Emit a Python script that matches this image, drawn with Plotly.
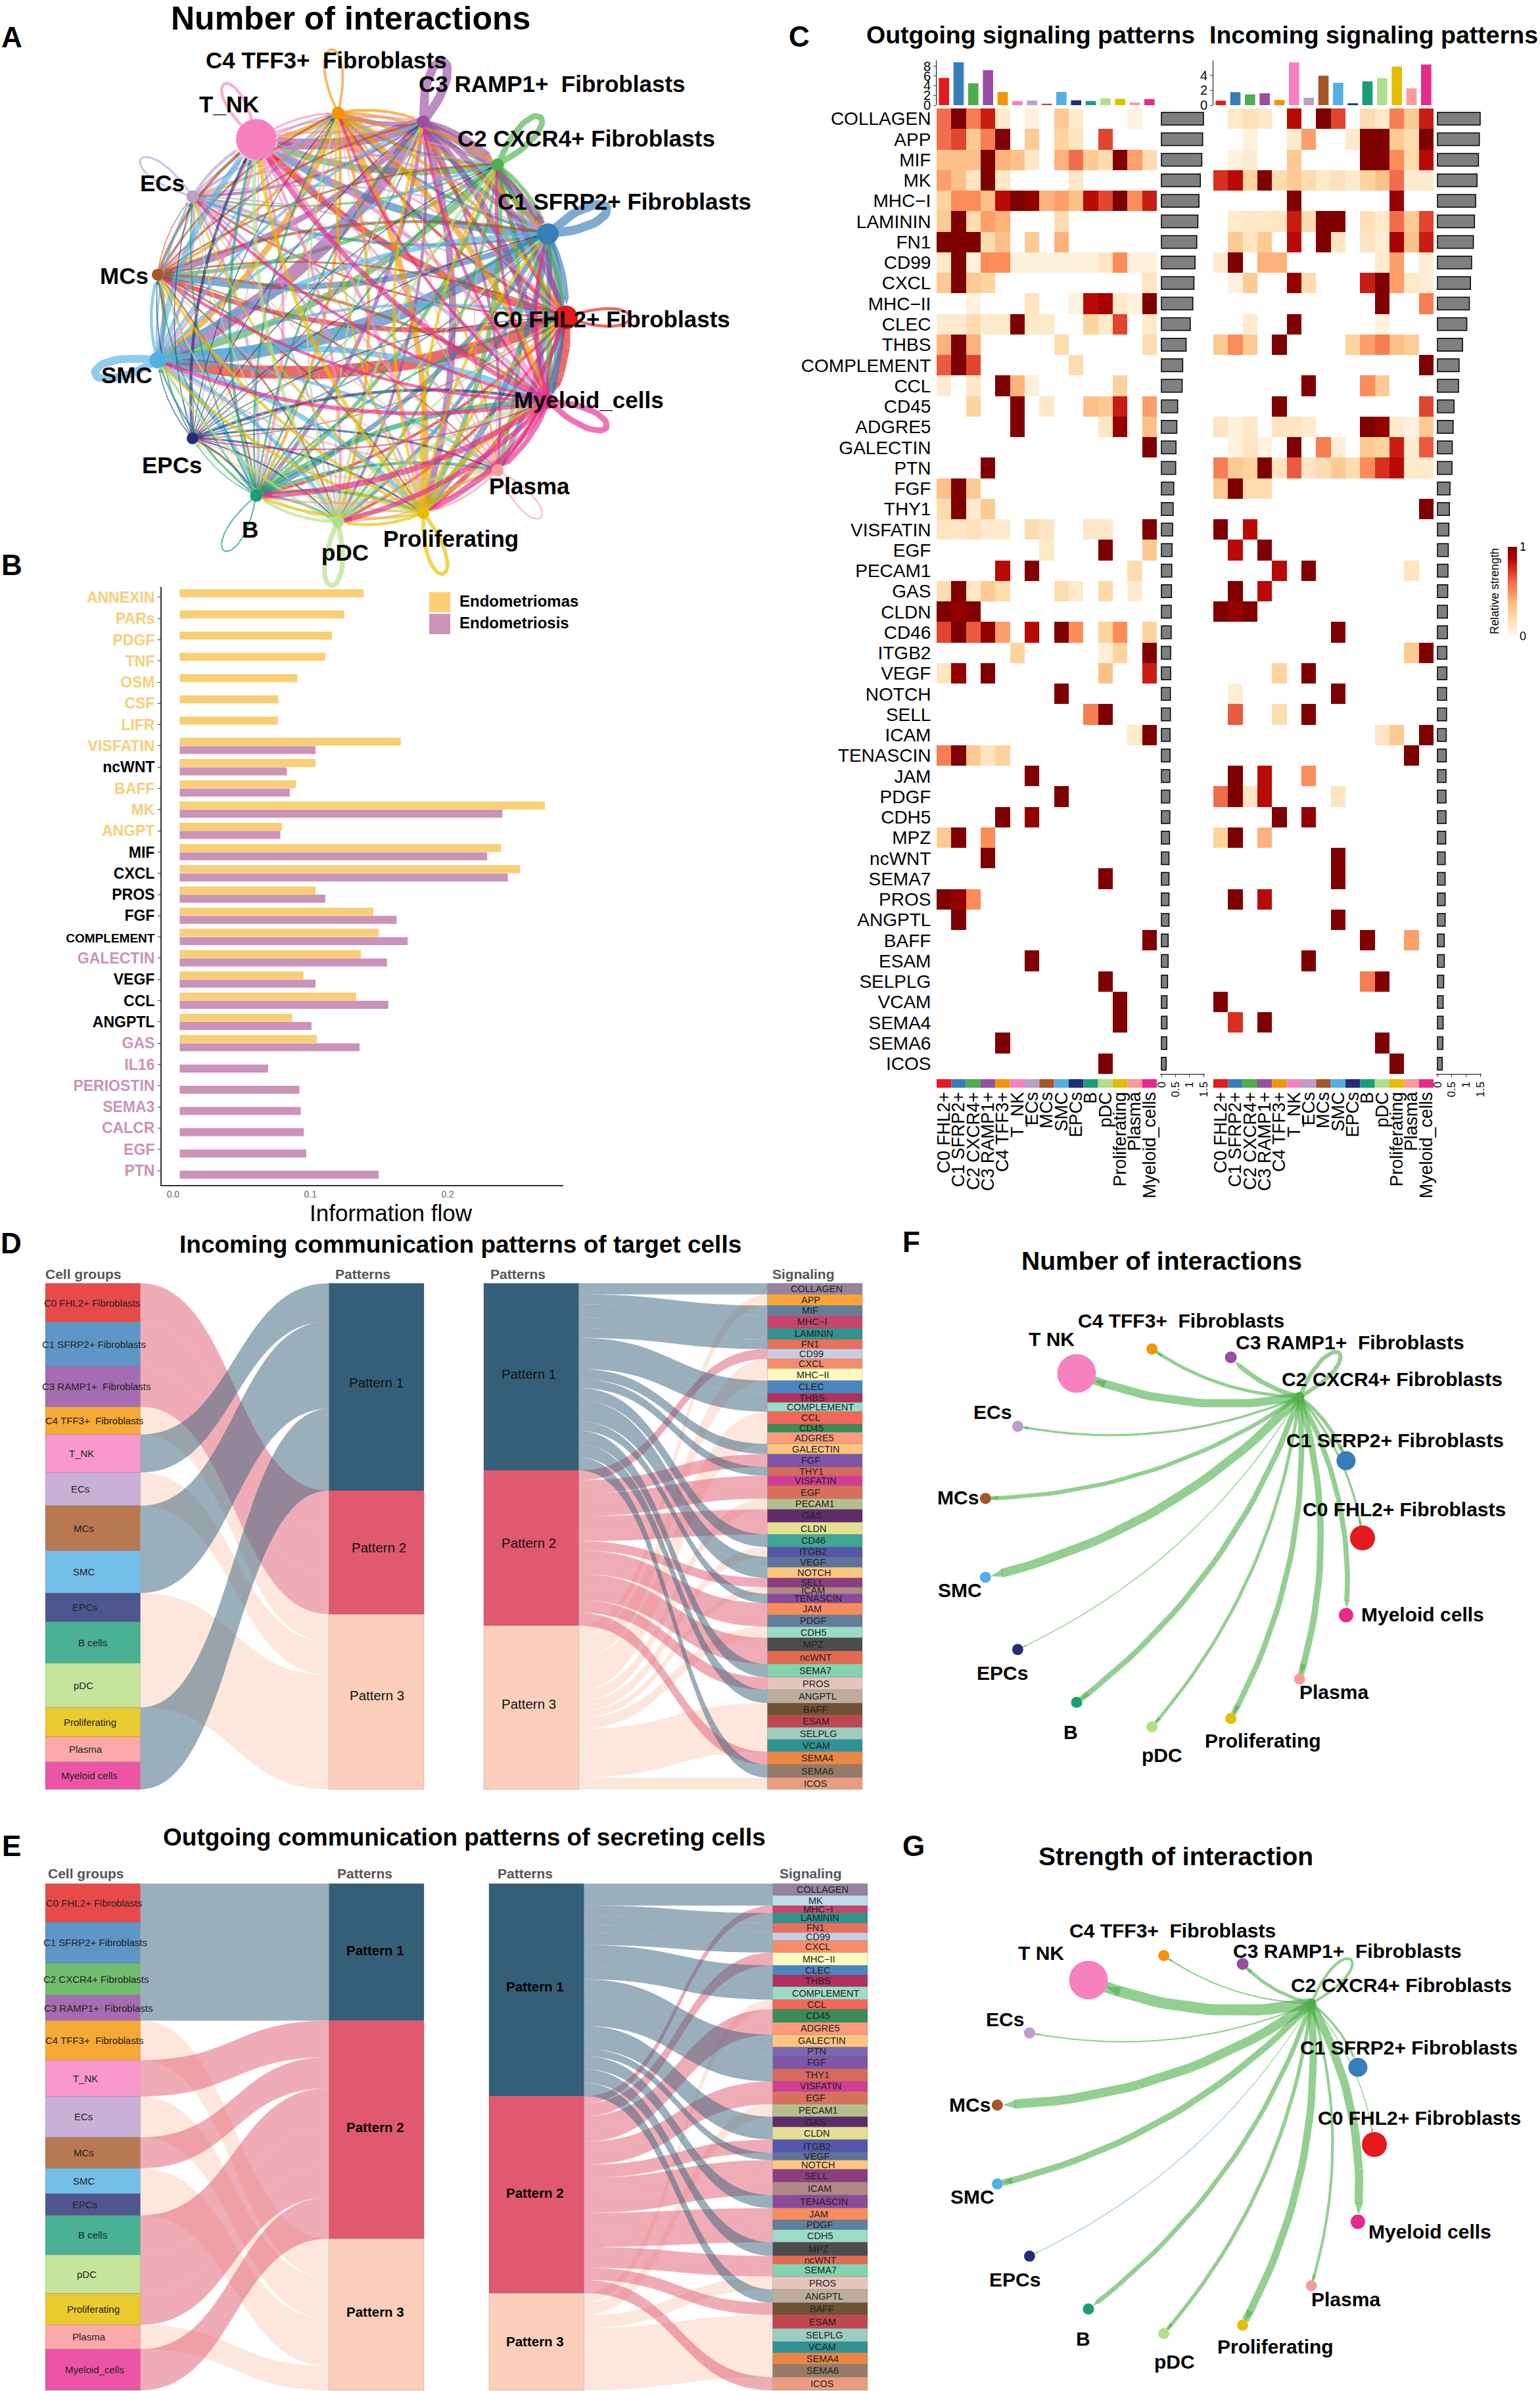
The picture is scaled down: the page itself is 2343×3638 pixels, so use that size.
import math
import plotly.graph_objects as go

W, H = 2343, 3638
FONT = "Liberation Sans"

# ---------------- shared names and colours
cell_names = ["C0 FHL2+", "C1 SFRP2+", "C2 CXCR4+", "C3 RAMP1+", "C4 TFF3+", "T_NK", "ECs", "MCs", "SMC", "EPCs",
              "B", "pDC", "Proliferating", "Plasma", "Myeloid_cells"]
cell_colors = ['#E41A1C', '#377EB8', '#4DAF4A', '#984EA3', '#F29403', '#F781BF', '#BC9DCC', '#A65628', '#54B0E4',
               '#222F75', '#1B9E77', '#B2DF8A', '#E3BE00', '#FB9A99', '#E7298A']

# ---------------- panel A: interaction counts (source rows, target columns; read as line weights)
a_weights = [
    [3, 5, 4, 4, 3, 7, 2, 5, 13, 1, 3, 3, 5, 3, 9],
    [5, 9, 5, 5, 3, 8, 3, 6, 14, 1.5, 5, 4, 6, 5, 8],
    [4, 4, 6, 4, 3, 7, 2, 4, 7, 1, 4, 3, 5, 4, 6],
    [6, 7, 6, 9, 5, 11, 3, 6, 14, 1.5, 4, 3, 7, 3, 7],
    [3, 3, 3, 3, 2.5, 6, 2, 3, 6, 1, 3, 3, 6, 2, 6],
    [2, 3, 2, 2, 2, 3, 1.5, 2, 3, 1, 3, 3, 4, 2, 4],
    [1.5, 2, 2, 2, 2, 3, 2, 2, 3, 1, 3, 2, 3, 2, 4],
    [2, 3, 2, 2, 2, 3, 1, 0, 4, 1, 2, 2, 2, 1.5, 3],
    [3, 5, 3, 3, 2, 6, 2, 3, 8, 1, 5, 4, 5, 3, 6],
    [1, 1, 1, 1, 1, 3, 1, 1, 1, 0, 2, 1.5, 2, 2, 3],
    [2, 2, 2, 2, 2, 3, 1.5, 1.5, 2, 1, 1.5, 2.5, 3, 3, 5],
    [2, 2, 3, 2, 2, 4, 1.5, 2, 3, 1, 3, 5, 3, 2.5, 5],
    [3, 3, 3, 3, 2, 4, 2, 3, 3, 1, 3, 3, 4, 3, 5],
    [1, 1.5, 1, 1, 1, 2, 1, 1, 1.5, 1, 2, 1.5, 2, 1.5, 3],
    [3, 4, 3, 3, 3, 5, 3, 3, 4, 1.5, 6, 5, 6, 5, 6],
]
a_node_sizes = [36, 32, 19, 19, 19, 62, 19, 18, 25, 18, 19, 18, 18, 18, 23]
a_labels = ["C0 FHL2+ Fibroblasts", "C1 SFRP2+ Fibroblasts", "C2 CXCR4+ Fibroblasts", "C3 RAMP1+\u00a0 Fibroblasts",
            "C4 TFF3+\u00a0 Fibroblasts", "T_NK", "ECs", "MCs", "SMC", "EPCs", "B", "pDC", "Proliferating", "Plasma",
            "Myeloid_cells"]
fg_labels = ["C0 FHL2+ Fibroblasts", "C1 SFRP2+ Fibroblasts", "C2 CXCR4+ Fibroblasts", "C3 RAMP1+\u00a0 Fibroblasts",
             "C4 TFF3+\u00a0 Fibroblasts", "T NK", "ECs", "MCs", "SMC", "EPCs", "B", "pDC", "Proliferating", "Plasma",
             "Myeloid cells"]

# ---------------- panels F and G: edges leaving C2 CXCR4+
f_widths = [2.5, 4, 4.5, 5, 3.5, 9, 2.5, 4.5, 9.5, 1, 6, 3.5, 6, 7, 5.5]
g_widths = [1, 2.5, 3, 3.5, 1.5, 12, 1.5, 10, 7, 0.8, 5, 4, 8, 3, 9]
fg_node_sizes = [38, 29, 15, 18, 17, 59, 17, 17, 17, 17, 17, 17, 17, 17, 22]

# ---------------- panel B
b_signals = ["ANNEXIN", "PARs", "PDGF", "TNF", "OSM", "CSF", "LIFR", "VISFATIN", "ncWNT", "BAFF", "MK", "ANGPT", "MIF",
             "CXCL", "PROS", "FGF", "COMPLEMENT", "GALECTIN", "VEGF", "CCL", "ANGPTL", "GAS", "IL16", "PERIOSTIN",
             "SEMA3", "CALCR", "EGF", "PTN"]
b_endometriomas = [.134, .120, .111, .106, .0858, .0718, .0715, .161, .099, .0846, .266, .0745, .234, .248, .099, .141,
                   .145, .132, .090, .1285, .082, .100, 0, 0, 0, 0, 0, 0]
b_endometriosis = [0, 0, 0, 0, 0, 0, 0, .099, .078, .0803, .235, .0733, .224, .239, .106, .158, .166, .151, .099, .152,
                   .096, .131, .0644, .0873, .0882, .0904, .0922, .145]
b_label_group = ["y", "y", "y", "y", "y", "y", "y", "y", "k", "y", "y", "y", "k", "k", "k", "k", "k", "p", "k", "k",
                 "k", "p", "p", "p", "p", "p", "p", "p"]

# ---------------- panel C
c_rows = ["COLLAGEN", "APP", "MIF", "MK", "MHC\u2212I", "LAMININ", "FN1", "CD99", "CXCL", "MHC\u2212II", "CLEC", "THBS",
          "COMPLEMENT", "CCL", "CD45", "ADGRE5", "GALECTIN", "PTN", "FGF", "THY1", "VISFATIN", "EGF", "PECAM1", "GAS",
          "CLDN", "CD46", "ITGB2", "VEGF", "NOTCH", "SELL", "ICAM", "TENASCIN", "JAM", "PDGF", "CDH5", "MPZ", "ncWNT",
          "SEMA7", "PROS", "ANGPTL", "BAFF", "ESAM", "SELPLG", "VCAM", "SEMA4", "SEMA6", "ICOS"]
c_outgoing = [
    [.6, 1, .55, .8, .1, 0, .05, 0, .3, .1, 0, 0, 0, .05, 0],
    [.6, .7, .3, .55, 1, 0, .3, 0, .25, .15, 0, .7, 0, 0, 0],
    [.35, .35, .35, 1, .4, .35, .12, 0, .4, .6, .3, .2, 1, .45, .2],
    [.45, .35, .15, 1, .13, 0, 0, 0, 0, .13, 0, 0, 0, 0, 0],
    [.25, .5, .5, .35, .85, 1, .95, .4, .45, .35, .85, .7, 1, .5, .8],
    [.3, 1, .2, .45, .4, 0, 0, 0, .2, 0, 0, 0, 0, 0, 0],
    [1, 1, 1, .2, .35, 0, .3, 0, .4, 0, 0, 0, 0, 0, 0],
    [.12, 1, .05, .5, .5, .06, .06, .06, .06, .06, .06, .15, .5, .06, .06],
    [.3, 1, .3, .25, 0, 0, 0, 0, 0, 0, 0, 0, 0, 0, .15],
    [0, 0, .05, 0, 0, 0, .15, 0, 0, .05, .85, .9, .12, .05, 1],
    [.1, .1, .2, .1, .12, 1, .12, .12, 0, 0, .25, .12, .7, 0, .12],
    [.4, 1, .4, 0, 0, 0, 0, 0, .2, 0, 0, 0, 0, 0, .2],
    [.65, 1, .7, 0, 0, 0, 0, 0, 0, .2, 0, 0, 0, 0, 0],
    [.1, 0, .13, 0, 1, .4, .06, 0, 0, 0, 0, 0, .25, 0, 0],
    [0, 0, .25, 0, 0, 1, 0, .13, 0, 0, .35, .3, .8, 0, .45],
    [0, 0, 0, 0, 0, 1, 0, 0, 0, 0, 0, .13, .95, 0, .35],
    [0, 0, 0, 0, 0, 0, 0, 0, 0, 0, 0, 0, 0, 0, 1],
    [0, 0, 0, 1, 0, 0, 0, 0, 0, 0, 0, 0, 0, 0, 0],
    [.35, 1, .3, 0, 0, 0, 0, 0, 0, 0, 0, 0, 0, 0, 0],
    [.2, 1, .1, .3, 0, 0, 0, 0, 0, 0, 0, 0, 0, 0, 0],
    [.15, .13, .17, .1, .1, 0, .2, .15, 0, 0, .13, .13, 0, 0, 1],
    [0, 0, 0, 0, 0, 0, 0, .12, 0, 0, 0, 1, 0, 0, .3],
    [0, 0, 0, 0, .85, 0, 1, 0, 0, 0, 0, 0, 0, .2, 0],
    [.2, 1, .13, .3, .2, 0, 0, 0, .2, .1, 0, .22, 0, .1, 0],
    [1, .95, 1, 0, 0, 0, 0, 0, 0, 0, 0, 0, 0, 0, 0],
    [.7, 1, .65, .95, .45, 0, .85, 0, 1, .5, 0, .25, .5, 0, .25],
    [0, 0, 0, 0, 0, .25, 0, 0, 0, 0, 0, .07, .25, 0, 1],
    [.15, .95, 0, 1, 0, 0, 0, 0, 0, 0, 0, .35, 0, 0, .8],
    [0, 0, 0, 0, 0, 0, 0, 0, 1, 0, 0, 0, 0, 0, 0],
    [0, 0, 0, 0, 0, 0, 0, 0, 0, 0, .55, 1, 0, 0, 0],
    [0, 0, 0, 0, 0, 0, 0, 0, 0, 0, 0, 0, 0, .12, 1],
    [.55, 1, .3, .15, .25, 0, 0, 0, 0, 0, 0, 0, 0, 0, 0],
    [0, 0, 0, 0, 0, 0, 1, 0, 0, 0, 0, 0, 0, 0, 0],
    [0, 0, 0, 0, 0, 0, 0, 0, 1, 0, 0, 0, 0, 0, 0],
    [0, 0, 0, 0, 1, 0, .95, 0, 0, 0, 0, 0, 0, 0, 0],
    [.3, 1, 0, .5, 0, 0, 0, 0, 0, 0, 0, 0, 0, 0, 0],
    [0, 0, 0, 1, 0, 0, 0, 0, 0, 0, 0, 0, 0, 0, 0],
    [0, 0, 0, 0, 0, 0, 0, 0, 0, 0, 0, 1, 0, 0, 0],
    [1, .95, .5, 0, 0, 0, 0, 0, 0, 0, 0, 0, 0, 0, 0],
    [0, 1, 0, 0, 0, 0, 0, 0, 0, 0, 0, 0, 0, 0, 0],
    [0, 0, 0, 0, 0, 0, 0, 0, 0, 0, 0, 0, 0, 0, 1],
    [0, 0, 0, 0, 0, 0, 1, 0, 0, 0, 0, 0, 0, 0, 0],
    [0, 0, 0, 0, 0, 0, 0, 0, 0, 0, 0, 1, 0, 0, 0],
    [0, 0, 0, 0, 0, 0, 0, 0, 0, 0, 0, 0, 1, 0, 0],
    [0, 0, 0, 0, 0, 0, 0, 0, 0, 0, 0, 0, 1, 0, 0],
    [0, 0, 0, 0, 1, 0, 0, 0, 0, 0, 0, 0, 0, 0, 0],
    [0, 0, 0, 0, 0, 0, 0, 0, 0, 0, 0, 1, 0, 0, 0],
]
c_incoming = [
    [0, .12, .17, .13, 0, .85, 0, 1, .7, 0, .2, .12, .55, .3, .8],
    [0, 0, .05, 0, 0, .1, .45, 0, 0, .1, 1, 1, .3, .2, 1],
    [0, .05, .1, 0, 0, .3, 0, 0, 0, 0, 1, 1, .5, .2, .85],
    [.75, .85, .25, 1, .2, .3, .2, .12, .17, .1, .25, .35, .6, .1, .1],
    [0, 0, 0, 0, 0, 1, 0, 0, 0, 0, 0, 0, .95, 0, 0],
    [0, .12, .13, .12, .15, .8, .2, 1, 1, 0, .18, .12, .6, .3, .7],
    [0, .3, .15, .3, 0, .85, 0, 1, .15, 0, .15, .08, .9, .35, .8],
    [.1, 1, 0, .4, .4, 0, 0, 0, 0, 0, 0, .1, .45, 0, .08],
    [0, .05, .3, 0, 0, .95, .2, 0, 0, 0, .8, 1, .45, .12, .08],
    [0, 0, 0, 0, 0, 0, 0, 0, 0, 0, 0, 1, 0, 0, .55],
    [0, 0, .1, 0, 0, 1, 0, 0, 0, 0, 0, .04, 0, 0, 0],
    [.3, .5, .3, 0, 1, 0, 0, 0, 0, .25, .45, .55, .35, .28, 0],
    [0, 0, 0, 0, 0, 0, 0, 0, 0, 0, 0, 0, 0, 0, 1],
    [0, 0, 0, 0, 0, 0, 1, 0, 0, 0, .5, .3, 0, 0, 0],
    [0, 0, 0, 0, 1, 0, 0, 0, 0, 0, 0, 0, 0, 0, .7],
    [.15, .06, .13, 0, .15, .15, .1, 0, 0, 0, 1, .95, .1, .05, .3],
    [0, .05, .15, .05, 0, 1, 0, .55, .08, 0, .3, .25, .8, .1, .65],
    [.55, .3, .25, 1, .15, .65, .15, .2, .3, .2, .5, .75, .85, .12, .12],
    [.3, 1, .2, .2, 0, 0, 0, 0, 0, 0, 0, 0, 0, 0, 0],
    [0, 0, 0, 0, 0, 0, 0, 0, 0, 0, 0, 0, 0, 0, 1],
    [1, 0, .85, 0, 0, 0, 0, 0, 0, 0, 0, 0, 0, 0, 0],
    [0, .85, 0, 1, 0, 0, 0, 0, 0, 0, 0, 0, 0, 0, 0],
    [0, 0, 0, 0, .85, 0, 1, 0, 0, 0, 0, 0, 0, .15, 0],
    [0, 1, 0, .85, 0, 0, 0, 0, 0, 0, 0, 0, 0, 0, 0],
    [1, .95, 1, 0, 0, 0, 0, 0, 0, 0, 0, 0, 0, 0, 0],
    [0, 0, 0, 0, 0, 0, 0, 0, 1, 0, 0, 0, 0, 0, 0],
    [0, 0, 0, 0, 0, 0, 0, 0, 0, 0, 0, 0, 0, .3, 1],
    [0, 0, 0, 0, .25, 0, 1, 0, 0, 0, 0, 0, 0, 0, 0],
    [0, .08, 0, 0, 0, 0, 0, 0, 1, 0, 0, 0, 0, 0, 0],
    [0, .65, 0, 0, .2, 0, 1, 0, 0, 0, 0, 0, 0, 0, 0],
    [0, 0, 0, 0, 0, 0, 0, 0, 0, 0, 0, .15, .3, 0, 1],
    [0, 0, 0, 0, 0, 0, 0, 0, 0, 0, 0, 0, 0, 1, 0],
    [0, 1, 0, .85, 0, 0, .5, 0, 0, 0, 0, 0, 0, 0, 0],
    [.6, 1, .15, .85, 0, 0, 0, 0, .15, 0, 0, 0, 0, 0, 0],
    [0, 0, 0, 0, 1, 0, .95, 0, 0, 0, 0, 0, 0, 0, 0],
    [.25, 1, 0, .4, 0, 0, 0, 0, 0, 0, 0, 0, 0, 0, 0],
    [0, 0, 0, 0, 0, 0, 0, 0, 1, 0, 0, 0, 0, 0, 0],
    [0, 0, 0, 0, 0, 0, 0, 0, 1, 0, 0, 0, 0, 0, 0],
    [0, 1, 0, .85, 0, 0, 0, 0, 0, 0, 0, 0, 0, 0, 0],
    [0, 0, 0, 0, 0, 0, 0, 0, 1, 0, 0, 0, 0, 0, 0],
    [0, 0, 0, 0, 0, 0, 0, 0, 0, 0, 1, 0, 0, .45, 0],
    [0, 0, 0, 0, 0, 0, 1, 0, 0, 0, 0, 0, 0, 0, 0],
    [0, 0, 0, 0, 0, 0, 0, 0, 0, 0, .55, 1, 0, 0, 0],
    [1, 0, 0, 0, 0, 0, 0, 0, 0, 0, 0, 0, 0, 0, 0],
    [0, .75, 0, 1, 0, 0, 0, 0, 0, 0, 0, 0, 0, 0, 0],
    [0, 0, 0, 0, 0, 0, 0, 0, 0, 0, 0, 1, 0, 0, 0],
    [0, 0, 0, 0, 0, 0, 0, 0, 0, 0, 0, 0, 1, 0, 0],
]
c_top_out = [5.6, 8.8, 4.5, 7.2, 2.7, .85, .95, .3, 2.7, 1.0, .85, 1.4, 1.3, .55, 1.25]
c_top_in = [.6, 1.75, 1.45, 1.6, .7, 5.75, 1.0, 3.95, 3.0, .25, 3.2, 3.65, 5.2, 2.25, 5.45]
c_row_totals = [1.5, 1.47, 1.44, 1.39, 1.34, 1.3, 1.26, 1.2, 1.16, 1.12, 1.03, .88, .76, .74, .58, .55, .52, .51, .44,
                .42, .40, .38, .37, .36, .35, .35, .33, .33, .32, .32, .31, .31, .30, .30, .30, .29, .27, .27, .27, .27,
                .24, .24, .22, .2, .2, .19, .17]

# ---------------- panels D and E: alluvial flows
pattern_names = ["Pattern 1", "Pattern 2", "Pattern 3"]
group_colors = {"C0 FHL2+ Fibroblasts": '#E84A4A', "C1 SFRP2+ Fibroblasts": '#5F96C8', "C2 CXCR4+ Fibroblasts": '#70BD6E',
                "C3 RAMP1+\u00a0 Fibroblasts": '#A56CB2', "C4 TFF3+\u00a0 Fibroblasts": '#F6A935', "T_NK": '#F898CC',
                "ECs": '#C8B0D6', "MCs": '#B77852', "SMC": '#74BEEA', "EPCs": '#4E5690', "B cells": '#4AB192',
                "pDC": '#C5E59C', "Proliferating": '#E9CB30', "Plasma": '#FCAAA9', "Myeloid cells": '#EE54A6',
                "Myeloid_cells": '#EE54A6'}
signal_colors = {"COLLAGEN": '#96839F', "APP": '#F8A436', "MIF": '#60809B', "MHC\u2212I": '#C5466C', "LAMININ": '#33938F',
                 "FN1": '#E8705C', "CD99": '#C9CBE2', "CXCL": '#F98C68', "MHC\u2212II": '#FCF8BE', "CLEC": '#4C85C3',
                 "THBS": '#B0305F', "COMPLEMENT": '#9ADCC6', "CCL": '#F46655', "CD45": '#3A8C58', "ADGRE5": '#FB9B7A',
                 "GALECTIN": '#FDC57F', "FGF": '#7E55A8', "THY1": '#D66A5C', "VISFATIN": '#D43C96', "EGF": '#D8705C',
                 "PECAM1": '#B6BD8C', "GAS": '#5F2C6A', "CLDN": '#E5DF94', "CD46": '#3EA893', "ITGB2": '#5458A8',
                 "VEGF": '#5F7299', "NOTCH": '#FDC57F', "SELL": '#8C3F80', "ICAM": '#B28788', "TENASCIN": '#8C4A9C',
                 "JAM": '#F98C5E', "PDGF": '#617F9B', "CDH5": '#9ADCC6', "MPZ": '#4D4D4D', "ncWNT": '#E86A50',
                 "SEMA7": '#83D3B0', "PROS": '#E6C3BD', "ANGPTL": '#BCAD9C', "BAFF": '#6F5233', "ESAM": '#C0464F',
                 "SELPLG": '#9CCDC0', "VCAM": '#2F9294', "SEMA4": '#EC8645', "SEMA6": '#957C6A', "ICOS": '#EB9C80',
                 "MK": '#BFDBEC', "PTN": '#7A69B0'}

d_groups = ["C0 FHL2+ Fibroblasts", "C1 SFRP2+ Fibroblasts", "C3 RAMP1+\u00a0 Fibroblasts", "C4 TFF3+\u00a0 Fibroblasts",
            "T_NK", "ECs", "MCs", "SMC", "EPCs", "B cells", "pDC", "Proliferating", "Plasma", "Myeloid cells"]
d_group_values = [105, 120, 110, 75, 103, 90, 122, 115, 78, 112, 120, 80, 68, 74]
d_group_pattern = [1, 1, 1, 2, 0, 2, 0, 0, 2, 2, 2, 0, 0, 0]

d_signals = ["COLLAGEN", "APP", "MIF", "MHC\u2212I", "LAMININ", "FN1", "CD99", "CXCL", "MHC\u2212II", "CLEC", "THBS",
             "COMPLEMENT", "CCL", "CD45", "ADGRE5", "GALECTIN", "FGF", "THY1", "VISFATIN", "EGF", "PECAM1", "GAS", "CLDN",
             "CD46", "ITGB2", "VEGF", "NOTCH", "SELL", "ICAM", "TENASCIN", "JAM", "PDGF", "CDH5", "MPZ", "ncWNT", "SEMA7",
             "PROS", "ANGPTL", "BAFF", "ESAM", "SELPLG", "VCAM", "SEMA4", "SEMA6", "ICOS"]
d_signal_values = [30, 30, 27, 35, 30, 26, 27, 26, 33, 34, 25, 25, 34, 22, 31, 28, 35, 24, 27, 35, 29, 35, 33, 34, 27,
                   28, 29, 25, 18, 25, 32, 32, 30, 36, 35, 36, 34, 36, 33, 33, 33, 33, 35, 35, 32]
d_signal_pattern = [0, 2, 0, 0, 0, 0, 1, 2, 2, 0, 0, 0, 2, 2, 2, 0, 1, 0, 1, 1, 2, 1, 1, 0, 2, 0, 0, 1, 2, 0, 1, 1, 2,
                    1, 1, 0, 1, 0, 2, 2, 2, 2, 1, 0, 2]
d_signal_label_x = [1454, 1443, 1442, 1446, 1449, 1442, 1445, 1445, 1447, 1445, 1446, 1460, 1443, 1445, 1450, 1453,
                    1443, 1445, 1451, 1443, 1451, 1446, 1448, 1448, 1448, 1447, 1450, 1446, 1447, 1456, 1446, 1448,
                    1448, 1448, 1452, 1452, 1453, 1456, 1452, 1453, 1457, 1453, 1455, 1455, 1451]
d_group_label_x = [164, 167, 171, 168, 145, 143, 149, 150, 151, 165, 149, 160, 153, 159]

e_groups = ["C0 FHL2+ Fibroblasts", "C1 SFRP2+ Fibroblasts", "C2 CXCR4+ Fibroblasts", "C3 RAMP1+\u00a0 Fibroblasts",
            "C4 TFF3+\u00a0 Fibroblasts", "T_NK", "ECs", "MCs", "SMC", "EPCs", "B cells", "pDC", "Proliferating", "Plasma",
            "Myeloid_cells"]
e_group_values = [105, 111, 87, 69, 107, 99, 111, 84, 69, 59, 107, 105, 85, 66, 112]
e_group_pattern = [0, 0, 0, 0, 2, 1, 2, 1, 2, 2, 1, 1, 1, 2, 1]
e_group_label_x = [167, 170, 171, 175, 168, 152, 149, 149, 150, 151, 165, 155, 166, 159, 168]

e_signals = ["COLLAGEN", "MK", "MHC\u2212I", "LAMININ", "FN1", "CD99", "CXCL", "MHC\u2212II", "CLEC", "THBS", "COMPLEMENT",
             "CCL", "CD45", "ADGRE5", "GALECTIN", "PTN", "FGF", "THY1", "VISFATIN", "EGF", "PECAM1", "GAS", "CLDN", "ITGB2",
             "VEGF", "NOTCH", "SELL", "ICAM", "TENASCIN", "JAM", "PDGF", "CDH5", "MPZ", "ncWNT", "SEMA7", "PROS", "ANGPTL",
             "BAFF", "ESAM", "SELPLG", "VCAM", "SEMA4", "SEMA6", "ICOS"]
e_signal_values = [32, 28, 20, 27, 26, 22, 32, 35, 26, 32, 35, 26, 36, 33, 34, 23, 36, 34, 27, 35, 34, 28, 34, 36, 20,
                   25, 35, 35, 35, 32, 27, 34, 37, 22, 34, 35, 36, 33, 37, 36, 30, 31, 35, 36]
e_signal_pattern = [0, 0, 1, 0, 0, 0, 0, 1, 0, 0, 0, 2, 1, 1, 0, 0, 0, 0, 1, 1, 2, 0, 0, 1, 0, 1, 1, 1, 0, 1, 1, 1, 0,
                    1, 1, 2, 0, 1, 2, 2, 2, 2, 2, 1]
e_signal_label_x = [1464, 1452, 1457, 1460, 1452, 1456, 1456, 1458, 1456, 1456, 1470, 1454, 1456, 1460, 1463, 1454,
                    1454, 1455, 1461, 1452, 1457, 1452, 1454, 1454, 1454, 1457, 1453, 1459, 1467, 1457, 1459, 1460,
                    1457, 1460, 1461, 1464, 1467, 1463, 1464, 1467, 1464, 1465, 1465, 1463]

# ---------------- helpers
fig = go.Figure()
annotations, shapes = [], []
layout_axes = {}
axis_count = [0]


def text(px, py, s, size, color="#000000", bold=False, anchor="center", angle=0):
    annotations.append(dict(x=px / W, y=1 - py / H, xref="paper", yref="paper", text=f"<b>{s}</b>" if bold else s,
                            showarrow=False, xanchor=anchor, yanchor="middle", textangle=angle,
                            font=dict(size=size, color=color, family=FONT)))


def axes(l, t, r, b, xkw=None, ykw=None):
    axis_count[0] += 1
    n = axis_count[0]
    sfx = "" if n == 1 else str(n)
    base = dict(showgrid=False, zeroline=False, showline=False, ticks="", showticklabels=False)
    x = dict(base); y = dict(base)
    x.update(domain=[l / W, r / W], anchor="y" + sfx)
    y.update(domain=[1 - b / H, 1 - t / H], anchor="x" + sfx)
    x.update(xkw or {}); y.update(ykw or {})
    layout_axes["xaxis" + sfx] = x
    layout_axes["yaxis" + sfx] = y
    return "x" + sfx, "y" + sfx


def rgba(hexc, a):
    h = hexc.lstrip("#")
    return f"rgba({int(h[0:2],16)},{int(h[2:4],16)},{int(h[4:6],16)},{a})"


def node_xy(i):
    a = math.radians(i * 24)
    return math.cos(a), math.sin(a)


def edge_points(i, j, trim, k=0.15, n=24):
    x0, y0 = node_xy(i); x1, y1 = node_xy(j)
    dx, dy = x1 - x0, y1 - y0
    cx, cy = (x0 + x1) / 2 - k * dy, (y0 + y1) / 2 + k * dx
    length = math.hypot(dx, dy)
    tend = 1 - trim / length
    xs, ys = [], []
    for q in range(n + 1):
        t = tend * q / n
        xs.append((1 - t) ** 2 * x0 + 2 * t * (1 - t) * cx + t * t * x1)
        ys.append((1 - t) ** 2 * y0 + 2 * t * (1 - t) * cy + t * t * y1)
    return xs, ys


def loop_points(i, length, spread=20, n=30):
    x0, y0 = node_xy(i)
    a = math.radians(i * 24)
    s = math.radians(spread)
    p1 = (x0 + length * math.cos(a + s), y0 + length * math.sin(a + s))
    p2 = (x0 + length * math.cos(a - s), y0 + length * math.sin(a - s))
    xs, ys = [], []
    for q in range(n + 1):
        t = q / n
        u = 1 - t
        xs.append(u ** 3 * x0 + 3 * u * u * t * p1[0] + 3 * u * t * t * p2[0] + t ** 3 * x0)
        ys.append(u ** 3 * y0 + 3 * u * u * t * p1[1] + 3 * u * t * t * p2[1] + t ** 3 * y0)
    return xs, ys


def network_axes(cx, cy, rx, ry, l, t, r, b):
    return axes(l, t, r, b, xkw=dict(range=[(l - cx) / rx, (r - cx) / rx]), ykw=dict(range=[(cy - b) / ry, (cy - t) / ry]))


def draw_edge(xa, ya, i, j, width, color, sizes, alpha, scale):
    col = rgba(color, alpha)
    width = width * scale
    if i == j:
        xs, ys = loop_points(i, 0.44)
        fig.add_trace(go.Scatter(x=xs, y=ys, mode="lines", line=dict(color=col, width=width), xaxis=xa, yaxis=ya,
                                 hoverinfo="skip", showlegend=False, cliponaxis=False))
        return
    trim = sizes[j] / 2 / 314
    xs, ys = edge_points(i, j, trim)
    msize = [0] * (len(xs) - 1) + [width * 1.2 + 4]
    fig.add_trace(go.Scatter(x=xs, y=ys, mode="lines+markers", line=dict(color=col, width=width), xaxis=xa, yaxis=ya,
                             marker=dict(symbol="arrow", angleref="previous", size=msize, color=col, opacity=1,
                                         line=dict(width=0)),
                             hoverinfo="skip", showlegend=False, cliponaxis=False))


def draw_nodes(xa, ya, sizes):
    pts = [node_xy(i) for i in range(15)]
    fig.add_trace(go.Scatter(x=[p[0] for p in pts], y=[p[1] for p in pts], mode="markers", xaxis=xa, yaxis=ya,
                             marker=dict(size=sizes, color=cell_colors, opacity=1, line=dict(width=0)), hoverinfo="skip",
                             showlegend=False, cliponaxis=False))


# ---------------- panel A
xa, ya = network_axes(547, 483, 314, 313, 0, 0, 1180, 930)
for i in range(15):
    for j in range(15):
        if a_weights[i][j] > 0:
            draw_edge(xa, ya, i, j, a_weights[i][j], cell_colors[i], a_node_sizes, 0.65, 1.5)
draw_nodes(xa, ya, a_node_sizes)
z1 = lambda x, y: (x * 1180 / 1568, y * 850 / 1568)
a_label_pos = [(1237, 895), (1262, 565), (1185, 388), (1116, 235), (660, 168), (463, 292), (328, 513), (251, 773),
               (257, 1053), (348, 1306), (505, 1485), (698, 1550), (911, 1512), (1071, 1365), (1190, 1122)]
for s, p in zip(a_labels, a_label_pos):
    text(*z1(*p), s, 35, bold=True)
text(533, 28, "Number of interactions", 50, bold=True)

# ---------------- panel F and G
for (cx, cy, widths, t, b, conv, pos) in [
    (1783, 2340, f_widths, 1950, 2720, lambda x, y: (1340 + x * .64, 1860 + y * .542),
     [(1245, 805), (1223, 612), (1215, 440), (1116, 336), (714, 275), (407, 328), (266, 533), (183, 773), (189, 1032),
      (289, 1265), (452, 1430), (669, 1495), (909, 1455), (1077, 1318), (1288, 1100)]),
    (1801, 3263, g_widths, 2870, 3638, lambda x, y: (1340 + x * .64, 2760 + y * .56),
     [(1280, 826), (1255, 634), (1238, 465), (1109, 372), (694, 317), (381, 378), (295, 558), (212, 790), (218, 1040),
      (318, 1266), (481, 1425), (698, 1488), (938, 1448), (1106, 1318), (1305, 1134)]),
]:
    xa, ya = network_axes(cx, cy, 290, 289, 1340, t, 2343, b)
    for j in range(15):
        draw_edge(xa, ya, 2, j, widths[j], cell_colors[2], fg_node_sizes, 0.6, 1.4)
    draw_nodes(xa, ya, fg_node_sizes)
    for s, p in zip(fg_labels, pos):
        text(*conv(*p), s, 30, bold=True)
text(1767, 1918, "Number of interactions", 39, bold=True)
text(1789, 2824, "Strength of interaction", 39, bold=True)

# ---------------- panel B
YEL, PUR = '#F8CF75', '#CC93BA'
lab_col = {"y": '#F6CF79', "p": '#CC92B8', "k": '#000000'}
b_ticktext = []
for s, g in zip(b_signals, b_label_group):
    sz = 19 if s == "COMPLEMENT" else 23
    b_ticktext.append(f'<span style="color:{lab_col[g]};font-size:{sz}px"><b>{s}</b></span>')
xa, ya = axes(246, 893, 857, 1803,
              xkw=dict(range=[-0.0131, 0.2794], showline=True, linecolor="#333333", linewidth=2, ticks="",
                       showticklabels=True, tickvals=[0, .1, .2], ticktext=["0.0", "0.1", "0.2"], ticklabelshift=-10,
                       tickfont=dict(size=14, color="#666666")),
              ykw=dict(type="category", categoryorder="array", categoryarray=b_signals, range=[27.68, -0.49],
                       showline=True, linecolor="#333333", linewidth=2, ticks="outside", ticklen=4, tickcolor="#333333",
                       showticklabels=True, tickmode="array", tickvals=b_signals, ticktext=b_ticktext,
                       tickfont=dict(size=23, family=FONT)))
fig.add_trace(go.Bar(y=b_signals, x=b_endometriomas, orientation="h", marker=dict(color=YEL, line=dict(width=0)),
                     xaxis=xa, yaxis=ya, name="Endometriomas", showlegend=False, hoverinfo="skip"))
fig.add_trace(go.Bar(y=b_signals, x=b_endometriosis, orientation="h", marker=dict(color=PUR, line=dict(width=0)),
                     xaxis=xa, yaxis=ya, name="Endometriosis", showlegend=False, hoverinfo="skip"))
for (top, bot, col, lab, ty) in [(901, 931.5, YEL, "Endometriomas", 914), (934, 965, PUR, "Endometriosis", 948)]:
    shapes.append(dict(type="rect", xref="paper", yref="paper", x0=653 / W, x1=685 / W, y0=1 - bot / H, y1=1 - top / H,
                       fillcolor=col, line=dict(width=0)))
    text(697, ty, lab, 24, bold=True, anchor="left")
text(595, 1845, "Information flow", 35)

# ---------------- panel C
orrd = [[0, '#fff7ec'], [.125, '#fee8c8'], [.25, '#fdd49e'], [.375, '#fdbb84'], [.5, '#fc8d59'], [.625, '#ef6548'],
        [.75, '#d7301f'], [.875, '#b30000'], [1, '#7f0000']]
C_TOP, C_BOT = 165, 1634


def blank_zero(m):
    return [[v if v > 0 else None for v in row] for row in m]


def cat_y(show=False):
    d = dict(type="category", categoryorder="array", categoryarray=c_rows, range=[46.5, -0.5])
    if show:
        d.update(showticklabels=True, tickmode="array", tickvals=c_rows, ticktext=c_rows,
                 tickfont=dict(size=28, color="#000000", family=FONT), ticks="outside", ticklen=2, tickcolor="#ffffff")
    return d


for (l, r, matrix, show, scale, top_vals, top_range, top_ticks, bar_l, bar_r, x0px) in [
    (1425, 1760, c_outgoing, True, True, c_top_out, 9.18, [0, 2, 4, 6, 8], 1765, 1833, 1767),
    (1846, 2181, c_incoming, False, False, c_top_in, 6.0, [0, 2, 4], 2185, 2254, 2187),
]:
    # heatmap
    xa, ya = axes(l, C_TOP, r, C_BOT, xkw=dict(range=[-.5, 14.5]), ykw=cat_y(show))
    hm = dict(z=blank_zero(matrix), x=list(range(15)), y=c_rows, colorscale=orrd, zmin=0, zmax=1, xaxis=xa, yaxis=ya,
              hoverinfo="skip", showscale=scale)
    if scale:
        hm["colorbar"] = dict(thickness=14, len=136, lenmode="pixels", x=2294 / W, xanchor="left", y=1 - 968 / H,
                              yanchor="bottom", outlinewidth=0, tickvals=[0, 1], ticktext=["0", "1"], ticklen=0,
                              tickfont=dict(size=18, color="#000000", family=FONT), xpad=0, ypad=0)
    fig.add_trace(go.Heatmap(**hm))
    # top bars
    xa, ya = axes(l, 92, r, 160, xkw=dict(range=[-.5, 14.5]),
                  ykw=dict(range=[0, top_range], showline=True, linecolor="#000000", linewidth=1, ticks="outside",
                           ticklen=4, tickvals=top_ticks, showticklabels=True,
                           tickfont=dict(size=20, color="#000000", family=FONT)))
    fig.add_trace(go.Bar(x=list(range(15)), y=top_vals, width=.7, marker=dict(color=cell_colors, line=dict(width=0)),
                         xaxis=xa, yaxis=ya, hoverinfo="skip", showlegend=False))
    # row total bars
    unit = (bar_r - 2 - x0px) / 1.5
    xa, ya = axes(bar_l, C_TOP, bar_r, C_BOT,
                  xkw=dict(range=[(bar_l - x0px) / unit, (bar_r - x0px) / unit], showline=True, linecolor="#000000",
                           linewidth=1, ticks="outside", ticklen=4, tickvals=[0, .5, 1, 1.5],
                           ticktext=["0", "0.5", "1", "1.5"], showticklabels=True, tickangle=-90,
                           tickfont=dict(size=17, color="#000000", family=FONT)),
                  ykw=cat_y(False))
    fig.add_trace(go.Bar(y=c_rows, x=c_row_totals, orientation="h", width=.62,
                         marker=dict(color="#7F7F7F", line=dict(color="#000000", width=1.5)), xaxis=xa, yaxis=ya,
                         hoverinfo="skip", showlegend=False))
    # annotation strip with column names
    xa, ya = axes(l, 1642, r, 1655,
                  xkw=dict(range=[-.5, 14.5], showticklabels=True, tickmode="array", tickvals=list(range(15)),
                           ticktext=cell_names, tickangle=-90, tickfont=dict(size=27, color="#000000", family=FONT)),
                  ykw=dict(range=[0, 1]))
    fig.add_trace(go.Bar(x=list(range(15)), y=[1] * 15, width=1, marker=dict(color=cell_colors, line=dict(width=0)),
                         xaxis=xa, yaxis=ya, hoverinfo="skip", showlegend=False))
text(1568, 53, "Outgoing signaling patterns", 37.5, bold=True)
text(2090, 53, "Incoming signaling patterns", 37.5, bold=True)
text(2274, 900, "Relative strength", 17.5, angle=-90)

# ---------------- panels D and E
pat_colors = ['#355F79', '#E0596F', '#FBCFBC']


def alluvial(l, r, t, b, left_names, left_vals, left_pat, left_colors, left_lab_px, left_size, left_is_left):
    thickness = 144.5
    width = r - l
    total = sum(left_vals)
    ys, cum = [], 0
    for v in left_vals:
        ys.append((cum + v / 2) / total)
        cum += v
    pat_tot = [sum(v for v, p in zip(left_vals, left_pat) if p == k) for k in range(3)]
    pys, cum = [], 0
    for v in pat_tot:
        pys.append((cum + v / 2) / total)
        cum += v
    n = len(left_vals)
    col_a = thickness / 2 / width
    col_b = 1 - col_a
    if left_is_left:
        xs = [col_a] * n + [col_b] * 3
    else:
        xs = [col_b] * n + [col_a] * 3
    src = list(range(n)) if left_is_left else [n + p for p in left_pat]
    tgt = [n + p for p in left_pat] if left_is_left else list(range(n))
    fig.add_trace(go.Sankey(
        domain=dict(x=[l / W, r / W], y=[1 - b / H, 1 - t / H]), arrangement="fixed", hoverinfo="skip",
        node=dict(pad=0, thickness=thickness, x=xs, y=ys + pys, label=[""] * (n + 3),
                  color=left_colors + pat_colors, line=dict(color="rgba(90,90,90,0.5)", width=.5), hoverinfo="skip"),
        link=dict(source=src, target=tgt, value=left_vals, color=[rgba(pat_colors[p], .5) for p in left_pat],
                  line=dict(width=0), hoverinfo="skip")))
    scale = (b - t) / total
    cum = 0
    for s, v, lx in zip(left_names, left_vals, left_lab_px):
        text(lx, t + (cum + v / 2) * scale, s, left_size, color="#222222")
        cum += v


ZX = 1340 / 1568
alluvial(69, 645, 1952.6, 2722.6, d_groups, d_group_values, d_group_pattern, [group_colors[g] for g in d_groups],
         [v * ZX for v in d_group_label_x], 15, True)
alluvial(736, 1312, 1952.6, 2722.6, d_signals, d_signal_values, d_signal_pattern, [signal_colors[g] for g in d_signals],
         [v * ZX for v in d_signal_label_x], 14.5, False)
alluvial(69, 645, 2866, 3637, e_groups, e_group_values, e_group_pattern, [group_colors[g] for g in e_groups],
         [v * ZX for v in e_group_label_x], 15, True)
alluvial(744, 1320, 2866, 3637, e_signals, e_signal_values, e_signal_pattern, [signal_colors[g] for g in e_signals],
         [v * ZX for v in e_signal_label_x], 14.5, False)

z5 = lambda x, y: (x * ZX, 1860 + y * .561)
z6 = lambda x, y: (x * ZX, 2760 + y * .56)
for s, p in zip(pattern_names, [(670, 434), (675, 882), (671, 1282)]):
    text(*z5(*p), s, 20.5, color="#111111")
for s, p in zip(pattern_names, [(941, 410), (941, 869), (941, 1305)]):
    text(*z5(*p), s, 20.5, color="#111111")
for s, p in zip(pattern_names, [(668, 370), (668, 850), (668, 1352)]):
    text(*z6(*p), s, 20.5, bold=True)
for s, p in zip(pattern_names, [(953, 468), (953, 1030), (953, 1433)]):
    text(*z6(*p), s, 20.5, bold=True)
for s, p in zip(["Cell groups", "Patterns", "Patterns", "Signaling"], [(149, 140), (646, 140), (922, 140), (1430, 140)]):
    text(*z5(*p), s, 21, color="#555555", bold=True)
for s, p in zip(["Cell groups", "Patterns", "Patterns", "Signaling"], [(153, 161), (650, 161), (935, 161), (1443, 161)]):
    text(*z6(*p), s, 21, color="#555555", bold=True)
text(700, 1893, "Incoming communication patterns of target cells", 37, bold=True)
text(706, 2795, "Outgoing communication patterns of secreting cells", 37, bold=True)

# ---------------- panel letters
for s, px, py in [("A", 18, 57), ("B", 18, 859), ("C", 1216, 55), ("D", 17, 1891), ("E", 17, 2808), ("F", 1386, 1890),
                  ("G", 1390, 2808)]:
    text(px, py, s, 44, bold=True)

fig.update_layout(width=W, height=H, margin=dict(l=0, r=0, t=0, b=0), template="none", paper_bgcolor="white",
                  plot_bgcolor="rgba(0,0,0,0)", showlegend=False, font=dict(family=FONT, color="#000000"),
                  barmode="group", bargap=.22, bargroupgap=.03, annotations=annotations, shapes=shapes, **layout_axes)
fig.write_html("out.html", config=dict(displayModeBar=False),
               post_script="document.body.style.margin='0';document.body.style.background='white';")
